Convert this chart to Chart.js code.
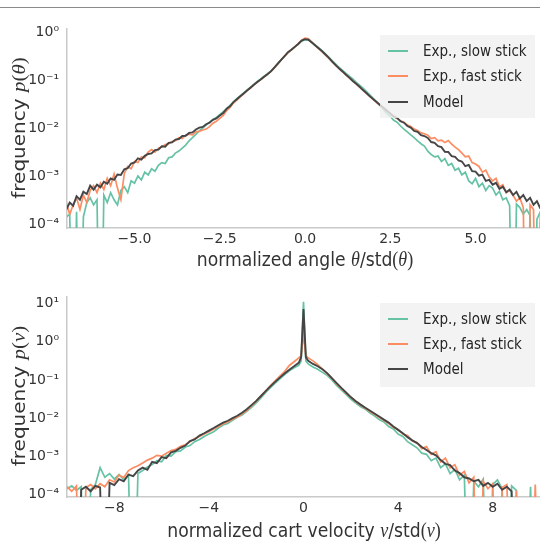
<!DOCTYPE html>
<html><head><meta charset="utf-8">
<script src="https://cdn.jsdelivr.net/npm/chart.js@4/dist/chart.umd.min.js"></script>
<style>
html,body{margin:0;padding:0;background:#fff;}
#wrap{position:relative;width:540px;height:542px;overflow:hidden;background:#fff;}
canvas{position:absolute;left:0;}
#c1{top:0;}
#c2{top:270px;}
</style></head><body>
<div id="wrap"><canvas id="c1" width="540" height="282"></canvas><canvas id="c2" width="540" height="272"></canvas></div>
<script>
// empty histogram bin (zero count): far below the axis, the line drops to the spine
const Z = 1e-8;

const seriesNames = ['Exp., slow stick', 'Exp., fast stick', 'Model'];

// ---------- top panel: normalized angle ----------
const thetaX = [
 -7.0,-6.9,-6.8,-6.7,-6.6,-6.5,-6.4,-6.3,-6.2,-6.1,
 -6.0,-5.9,-5.8,-5.7,-5.6,-5.5,-5.4,-5.3,-5.2,-5.1,
 -5.0,-4.9,-4.8,-4.7,-4.6,-4.5,-4.4,-4.3,-4.2,-4.1,
 -4.0,-3.9,-3.8,-3.7,-3.6,-3.5,-3.4,-3.3,-3.2,-3.1,
 -3.0,-2.9,-2.8,-2.7,-2.6,-2.5,-2.4,-2.3,-2.2,-2.1,
 -2.0,-1.9,-1.8,-1.7,-1.6,-1.5,-1.4,-1.3,-1.2,-1.1,
 -1.0,-0.9,-0.8,-0.7,-0.6,-0.5,-0.4,-0.3,-0.2,-0.1,
 0.0,
 0.1,0.2,0.3,0.4,0.5,0.6,0.7,0.8,0.9,1.0,
 1.1,1.2,1.3,1.4,1.5,1.6,1.7,1.8,1.9,2.0,
 2.1,2.2,2.3,2.4,2.5,2.6,2.7,2.8,2.9,3.0,
 3.1,3.2,3.3,3.4,3.5,3.6,3.7,3.8,3.9,4.0,
 4.1,4.2,4.3,4.4,4.5,4.6,4.7,4.8,4.9,5.0,
 5.1,5.2,5.3,5.4,5.5,5.6,5.7,5.8,5.9,6.0,
 6.1,6.2,6.3,6.4,6.5,6.6,6.7,6.8,6.9,7.0
];
const thetaSlow = [
 1.4e-4,1.6e-4,Z,1.8e-4,Z,1.4e-4,2.8e-4,3.5e-4,2.5e-4,3.2e-4,
 Z,4.0e-4,2.8e-4,4.5e-4,3.2e-4,2.5e-4,5.0e-4,6.0e-4,4.5e-4,7.9e-4,
 7.1e-4,1.0e-3,8.3e-4,1.2e-3,1.05e-3,1.41e-3,1.26e-3,1.66e-3,1.9e-3,1.82e-3,
 2.4e-3,2.5e-3,3.0e-3,3.3e-3,3.8e-3,4.4e-3,5.4e-3,6.3e-3,7.4e-3,8.7e-3,
 1.0e-2,1.15e-2,1.32e-2,1.51e-2,1.66e-2,1.9e-2,2.19e-2,2.5e-2,2.95e-2,3.47e-2,
 4.07e-2,4.68e-2,5.37e-2,6.17e-2,7.08e-2,8.13e-2,9.33e-2,0.105,0.120,0.135,
 0.155,0.182,0.219,0.263,0.316,0.372,0.427,0.490,0.562,0.646,
 0.692,
 0.676,0.603,0.537,0.468,0.407,0.347,0.295,0.251,0.214,0.182,
 0.158,0.138,0.120,0.105,8.9e-2,7.8e-2,6.8e-2,5.75e-2,4.9e-2,4.17e-2,
 3.47e-2,2.95e-2,2.4e-2,2.0e-2,1.74e-2,1.45e-2,1.32e-2,1.1e-2,9.5e-3,8.3e-3,
 7.2e-3,6.3e-3,5.4e-3,4.7e-3,4.2e-3,3.3e-3,2.8e-3,2.5e-3,2.6e-3,2.0e-3,
 2.3e-3,1.66e-3,1.82e-3,1.32e-3,1.45e-3,1.05e-3,1.2e-3,7.9e-4,6.9e-4,8.9e-4,
 6.0e-4,7.1e-4,5.0e-4,6.3e-4,5.6e-4,4.0e-4,4.8e-4,3.2e-4,3.5e-4,2.4e-4,
 Z,2.6e-4,2.2e-4,1.6e-4,2.0e-4,1.5e-4,Z,1.26e-4,1.8e-4,1.3e-4
];
const thetaFast = [
 2.8e-4,1.6e-4,2.5e-4,3.5e-4,2.0e-4,4.0e-4,2.8e-4,5.0e-4,6.3e-4,4.5e-4,
 7.1e-4,5.2e-4,8.9e-4,6.3e-4,1.10e-3,5.6e-4,3.2e-4,1.12e-3,1.58e-3,1.41e-3,
 2.0e-3,1.91e-3,2.5e-3,2.4e-3,3.16e-3,3.55e-3,3.16e-3,3.8e-3,4.0e-3,4.5e-3,
 4.7e-3,5.2e-3,5.4e-3,6.3e-3,6.0e-3,7.1e-3,7.4e-3,7.2e-3,8.3e-3,8.5e-3,
 9.1e-3,9.5e-3,1.07e-2,1.26e-2,1.38e-2,1.58e-2,1.82e-2,2.29e-2,2.69e-2,3.31e-2,
 3.8e-2,4.47e-2,5.13e-2,6.03e-2,6.76e-2,7.94e-2,8.91e-2,0.102,0.115,0.132,
 0.151,0.178,0.214,0.263,0.309,0.372,0.427,0.490,0.575,0.676,
 0.741,
 0.724,0.617,0.525,0.447,0.389,0.331,0.282,0.240,0.200,0.174,
 0.148,0.129,0.110,9.55e-2,8.32e-2,7.08e-2,6.17e-2,5.25e-2,4.57e-2,3.98e-2,
 3.39e-2,2.95e-2,2.57e-2,2.29e-2,2.0e-2,1.74e-2,1.58e-2,1.41e-2,1.32e-2,1.15e-2,
 1.07e-2,9.5e-3,8.9e-3,7.9e-3,7.6e-3,7.1e-3,6.0e-3,6.3e-3,5.4e-3,5.6e-3,
 5.0e-3,5.5e-3,4.6e-3,4.0e-3,3.55e-3,3.0e-3,2.5e-3,2.6e-3,1.9e-3,1.78e-3,
 1.58e-3,1.2e-3,1.32e-3,9.5e-4,7.9e-4,8.9e-4,6.0e-4,6.6e-4,4.5e-4,5.0e-4,
 4.0e-4,3.0e-4,3.5e-4,2.2e-4,Z,2.5e-4,2.0e-4,Z,1.8e-4,1.4e-4
];
const thetaModel = [
 2.0e-4,2.8e-4,2.4e-4,3.8e-4,3.2e-4,4.7e-4,4.2e-4,6.3e-4,5.2e-4,6.6e-4,
 5.8e-4,7.6e-4,6.9e-4,8.9e-4,8.3e-4,1.07e-3,1.05e-3,1.38e-3,1.45e-3,1.82e-3,
 1.91e-3,2.34e-3,2.19e-3,2.63e-3,2.88e-3,2.95e-3,3.47e-3,3.55e-3,4.17e-3,4.07e-3,
 4.9e-3,5.0e-3,5.75e-3,5.9e-3,6.8e-3,6.9e-3,7.9e-3,8.1e-3,9.3e-3,1.02e-2,
 1.05e-2,1.2e-2,1.29e-2,1.48e-2,1.58e-2,1.82e-2,2.04e-2,2.51e-2,2.82e-2,3.47e-2,
 3.98e-2,4.57e-2,5.25e-2,6.03e-2,6.92e-2,7.94e-2,9.12e-2,0.102,0.117,0.132,
 0.151,0.182,0.219,0.263,0.316,0.380,0.427,0.490,0.562,0.661,
 0.708,
 0.692,0.603,0.525,0.457,0.398,0.339,0.288,0.240,0.204,0.174,
 0.151,0.129,0.112,9.55e-2,8.32e-2,7.24e-2,6.17e-2,5.37e-2,4.57e-2,3.98e-2,
 3.47e-2,3.02e-2,2.63e-2,2.29e-2,2.0e-2,1.74e-2,1.62e-2,1.38e-2,1.29e-2,1.1e-2,
 1.02e-2,8.7e-3,8.3e-3,7.1e-3,6.8e-3,6.2e-3,5.1e-3,4.9e-3,4.2e-3,4.0e-3,
 3.2e-3,3.16e-3,2.6e-3,2.5e-3,2.1e-3,2.0e-3,1.6e-3,1.7e-3,1.26e-3,1.23e-3,
 1.02e-3,1.07e-3,7.9e-4,8.3e-4,6.6e-4,7.2e-4,5.4e-4,6.0e-4,4.6e-4,5.2e-4,
 4.0e-4,4.7e-4,3.4e-4,4.0e-4,3.0e-4,3.5e-4,2.5e-4,3.0e-4,2.1e-4,2.4e-4
];
const thetaXTicks = [-5, -2.5, 0, 2.5, 5];
const thetaYTicks = [1e-4, 1e-3, 1e-2, 1e-1, 1];

// ---------- bottom panel: normalized cart velocity ----------
const velX = [
 -10.0,-9.8,-9.6,-9.4,-9.2,-9.0,-8.8,-8.6,-8.4,-8.2,
 -8.0,-7.8,-7.6,-7.4,-7.2,-7.0,-6.8,-6.6,-6.4,-6.2,
 -6.0,-5.8,-5.6,-5.4,-5.2,-5.0,-4.8,-4.6,-4.4,-4.2,
 -4.0,-3.8,-3.6,-3.4,-3.2,-3.0,-2.8,-2.6,-2.4,-2.2,
 -2.0,-1.8,-1.6,-1.4,-1.2,-1.0,-0.8,-0.6,-0.4,-0.2,
 -0.1,0.0,0.1,
 0.2,0.4,0.6,0.8,1.0,1.2,1.4,1.6,1.8,2.0,
 2.2,2.4,2.6,2.8,3.0,3.2,3.4,3.6,3.8,4.0,
 4.2,4.4,4.6,4.8,5.0,5.2,5.4,5.6,5.8,6.0,
 6.2,6.4,6.6,6.8,7.0,7.2,7.4,7.6,7.8,8.0,
 8.2,8.4,8.6,8.8,9.0,9.2,9.4,9.6,9.8,10.0
];
const velSlow = [
 1.4e-4,1.66e-4,1.26e-4,1.58e-4,Z,1.32e-4,1.8e-4,5.0e-4,2.8e-4,3.5e-4,
 2.5e-4,3.3e-4,2.4e-4,3.2e-4,Z,3.5e-4,4.2e-4,5.2e-4,6.0e-4,7.6e-4,
 7.1e-4,1.05e-3,1.0e-3,1.32e-3,1.38e-3,1.74e-3,1.9e-3,2.4e-3,2.75e-3,3.3e-3,
 3.8e-3,4.4e-3,5.5e-3,6.6e-3,7.2e-3,8.7e-3,1.05e-2,1.2e-2,1.51e-2,1.9e-2,
 2.5e-2,3.4e-2,4.7e-2,6.3e-2,8.3e-2,0.107,0.138,0.174,0.209,0.240,
 0.316,11.2,0.316,
 0.263,0.219,0.191,0.158,0.132,0.100,7.2e-2,5.5e-2,4.2e-2,3.16e-2,
 2.5e-2,2.0e-2,1.74e-2,1.38e-2,1.15e-2,9.1e-3,7.9e-3,6.0e-3,5.2e-3,3.8e-3,
 3.3e-3,2.4e-3,2.0e-3,1.66e-3,1.2e-3,1.12e-3,7.6e-4,8.9e-4,5.0e-4,6.3e-4,
 3.5e-4,4.5e-4,2.4e-4,3.2e-4,Z,2.2e-4,1.58e-4,2.5e-4,Z,1.8e-4,
 2.4e-4,1.4e-4,Z,1.66e-4,1.26e-4,Z,Z,1.58e-4,Z,Z
];
const velFast = [
 1.58e-4,1.2e-4,1.66e-4,Z,1.5e-4,1.8e-4,1.4e-4,1.9e-4,1.58e-4,2.4e-4,
 2.1e-4,3.2e-4,2.75e-4,4.2e-4,5.0e-4,5.6e-4,6.6e-4,7.9e-4,8.9e-4,1.05e-3,
 1.0e-3,1.2e-3,1.41e-3,1.51e-3,1.82e-3,2.0e-3,2.4e-3,2.9e-3,3.3e-3,3.8e-3,
 4.4e-3,5.2e-3,6.0e-3,7.1e-3,7.9e-3,9.3e-3,1.07e-2,1.29e-2,1.58e-2,2.1e-2,
 2.75e-2,3.7e-2,5.1e-2,7.1e-2,9.5e-2,0.126,0.166,0.240,0.300,0.380,
 0.437,1.58,0.437,
 0.380,0.316,0.251,0.191,0.145,0.110,7.9e-2,6.0e-2,4.5e-2,3.47e-2,
 2.7e-2,2.2e-2,1.82e-2,1.51e-2,1.26e-2,1.05e-2,8.7e-3,7.2e-3,5.75e-3,5.0e-3,
 3.8e-3,3.47e-3,2.5e-3,2.3e-3,1.58e-3,1.78e-3,1.12e-3,1.32e-3,7.1e-4,8.9e-4,
 5.0e-4,6.0e-4,3.2e-4,4.0e-4,2.0e-4,2.8e-4,Z,2.2e-4,1.4e-4,1.9e-4,
 Z,1.5e-4,1.8e-4,Z,1.26e-4,Z,Z,Z,1.8e-4,Z
];
const velModel = [
 Z,Z,Z,1.32e-4,1.58e-4,1.2e-4,1.66e-4,1.51e-4,Z,2.0e-4,
 1.74e-4,2.5e-4,2.2e-4,3.3e-4,3.0e-4,4.2e-4,5.0e-4,4.4e-4,7.1e-4,6.6e-4,
 9.5e-4,8.9e-4,1.26e-3,1.38e-3,1.66e-3,1.9e-3,2.5e-3,2.75e-3,3.47e-3,4.0e-3,
 4.7e-3,5.5e-3,6.5e-3,7.6e-3,8.5e-3,1.0e-2,1.15e-2,1.38e-2,1.7e-2,2.19e-2,
 2.82e-2,3.8e-2,5.1e-2,6.8e-2,8.9e-2,0.115,0.148,0.186,0.229,0.282,
 0.398,7.2,0.398,
 0.316,0.263,0.229,0.191,0.151,0.112,8.3e-2,6.2e-2,4.7e-2,3.55e-2,
 2.82e-2,2.29e-2,1.9e-2,1.58e-2,1.32e-2,1.1e-2,9.1e-3,7.6e-3,6.0e-3,4.9e-3,
 4.0e-3,3.16e-3,2.6e-3,2.2e-3,1.74e-3,1.45e-3,1.2e-3,1.05e-3,7.9e-4,6.3e-4,
 5.8e-4,4.2e-4,3.6e-4,2.8e-4,2.6e-4,2.2e-4,2.4e-4,1.66e-4,2.0e-4,1.58e-4,
 1.9e-4,1.32e-4,1.58e-4,1.2e-4,Z,Z,Z,Z,Z,Z
];
const velXTicks = [-8, -4, 0, 4, 8];
const velYTicks = [1e-4, 1e-3, 1e-2, 1e-1, 1, 10];

// ---------- styling ----------
const COLORS = ['#66c2a5', '#fc8d62', '#454545'];
const TEXT = '#333333';
const SPINE = '#cacaca';
const SANS = '"DejaVu Sans", "Noto Sans", sans-serif';
const SERIF = '"Liberation Serif", "DejaVu Serif", serif';

const SUP = {'-':'\u207B','0':'\u2070','1':'\u00B9','2':'\u00B2','3':'\u00B3','4':'\u2074','5':'\u2075'};
function pow10Label(v) {
  const e = String(Math.round(Math.log10(v)));
  return '10' + e.split('').map(c => SUP[c]).join('');
}
function minusFmt(v, dec) {
  const s = dec ? Math.abs(v).toFixed(dec) : String(Math.abs(v));
  return (v < 0 ? '\u2212' : '') + s;
}

function drawRuns(ctx, runs, cx, cy, sx, rotate) {
  ctx.save();
  ctx.translate(cx, cy);
  ctx.scale(sx, 1);
  if (rotate) ctx.rotate(-Math.PI / 2);
  let w = 0;
  for (const r of runs) { ctx.font = r.f; w += ctx.measureText(r.t).width; }
  let x = -w / 2;
  ctx.fillStyle = TEXT;
  ctx.textBaseline = 'alphabetic';
  ctx.textAlign = 'left';
  for (const r of runs) { ctx.font = r.f; ctx.fillText(r.t, x, 0); x += ctx.measureText(r.t).width; }
  ctx.restore();
}

function makeChart(id, o) {
  const sans = '20px ' + SANS, it = 'italic 21px ' + SERIF, rm = '21px ' + SERIF;
  return new Chart(document.getElementById(id), {
    type: 'line',
    data: {
      datasets: o.series.map((ys, k) => ({
        label: seriesNames[k],
        data: o.x.map((x, i) => ({ x: x, y: ys[i] })),
        borderColor: COLORS[k],
        borderWidth: k === 2 ? 1.9 : 1.7,
        pointRadius: 0,
        fill: false,
        tension: 0,
        order: 3 - k
      }))
    },
    options: {
      responsive: false,
      animation: false,
      events: [],
      layout: { padding: { top: o.padTop, left: 0, right: 0, bottom: 0 } },
      plugins: { legend: { display: false }, tooltip: { enabled: false }, title: { display: false } },
      scales: {
        x: {
          type: 'linear', min: o.xMin, max: o.xMax,
          grid: { display: false, drawTicks: false },
          border: { display: true, color: SPINE, width: 1.5 },
          ticks: { padding: 3, color: TEXT, font: { family: SANS, size: 14 }, maxRotation: 0, autoSkip: false, callback: o.xFmt },
          afterBuildTicks: s => { s.ticks = o.xTicks.map(v => ({ value: v })); },
          afterFit: s => { s.height = o.xAxisH; }
        },
        y: {
          type: 'logarithmic', min: o.yMin, max: o.yMax,
          grid: { display: false, drawTicks: false },
          border: { display: true, color: SPINE, width: 1.5 },
          ticks: { padding: 8, color: TEXT, font: { family: SANS, size: 14 }, autoSkip: false, callback: v => pow10Label(v) },
          afterBuildTicks: s => { s.ticks = o.yTicks.map(v => ({ value: v })); },
          afterFit: s => { s.width = 67; }
        }
      }
    },
    plugins: [{
      id: 'deco',
      afterDatasetsDraw(chart) {
        const ctx = chart.ctx, L = o.legend;
        ctx.save();
        ctx.fillStyle = 'rgba(240,240,240,0.8)';
        ctx.fillRect(L.x0, L.y0, L.x1 - L.x0, L.y1 - L.y0);
        L.rows.forEach((ry, k) => {
          ctx.strokeStyle = COLORS[k];
          ctx.lineWidth = 2;
          ctx.beginPath(); ctx.moveTo(388, ry); ctx.lineTo(408, ry); ctx.stroke();
          ctx.save();
          ctx.translate(423, ry);
          ctx.scale(0.9, 1);
          ctx.font = '15px ' + SANS;
          ctx.fillStyle = '#262626';
          ctx.textBaseline = 'middle';
          ctx.fillText(seriesNames[k], 0, 1);
          ctx.restore();
        });
        ctx.restore();
      },
      afterDraw(chart) {
        const ctx = chart.ctx;
        if (o.rule) {
          ctx.save();
          ctx.strokeStyle = '#8a8a8a'; ctx.lineWidth = 1;
          ctx.beginPath(); ctx.moveTo(0, 7.5); ctx.lineTo(540, 7.5); ctx.stroke();
          ctx.restore();
        }
        const sym = o.sym;
        drawRuns(ctx, [
          { t: o.xTitle, f: sans }, { t: sym, f: it }, { t: '/std', f: sans },
          { t: '(', f: rm }, { t: sym, f: it }, { t: ')', f: rm }
        ], o.xTitleX, o.xTitleY, 0.86, false);
        drawRuns(ctx, [
          { t: 'frequency ', f: sans }, { t: 'p', f: it },
          { t: '(', f: rm }, { t: sym, f: it }, { t: ')', f: rm }
        ], 25, o.yTitleY, 0.86, true);
      }
    }]
  });
}

makeChart('c1', {
  x: thetaX, series: [thetaSlow, thetaFast, thetaModel],
  xMin: -6.98, xMax: 6.89, yMin: 8.25e-5, yMax: 1.155,
  xTicks: thetaXTicks, yTicks: thetaYTicks,
  xFmt: v => minusFmt(v, 1),
  padTop: 29, xAxisH: 54,
  legend: { x0: 380, y0: 35, x1: 535, y1: 118, rows: [51, 76, 102] },
  rule: true,
  sym: '\u03B8', xTitle: 'normalized angle ',
  xTitleX: 305, xTitleY: 266, yTitleY: 128
});

makeChart('c2', {
  x: velX, series: [velSlow, velFast, velModel],
  xMin: -10, xMax: 10, yMin: 8.5e-5, yMax: 15,
  xTicks: velXTicks, yTicks: velYTicks,
  xFmt: v => minusFmt(v, 0),
  padTop: 27, xAxisH: 45,
  legend: { x0: 380, y0: 33, x1: 535, y1: 117, rows: [49, 74, 99] },
  rule: false,
  sym: 'v', xTitle: 'normalized cart velocity ',
  xTitleX: 304, xTitleY: 267, yTitleY: 126
});
</script>
</body></html>
